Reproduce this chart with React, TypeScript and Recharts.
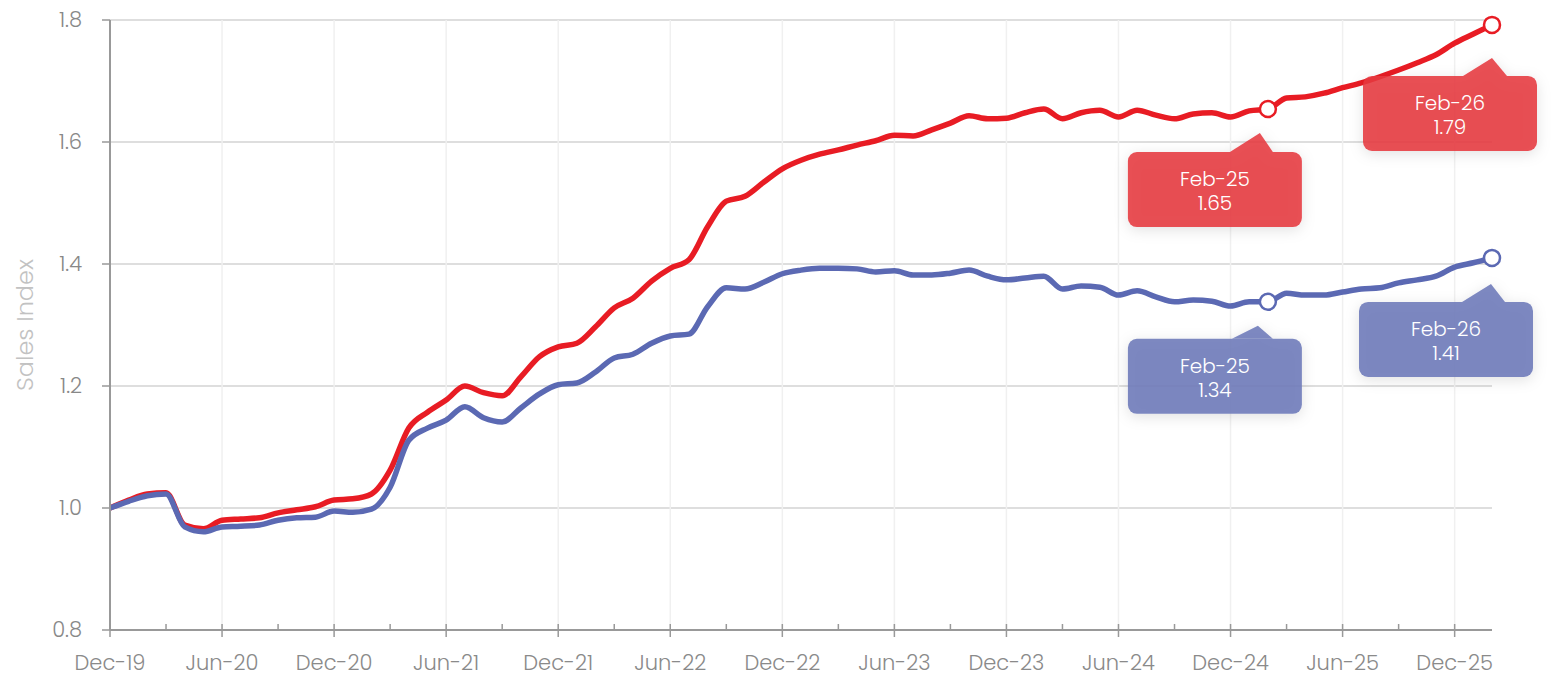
import React from "react";
import {
  LineChart, Line, XAxis, YAxis, CartesianGrid, ReferenceLine, ReferenceDot,
} from "recharts";

/* ── Categories ─────────────────────────────────────── */
const monthNames = ["Jan", "Feb", "Mar", "Apr", "May", "Jun", "Jul", "Aug", "Sep", "Oct", "Nov", "Dec"];
// Dec-19 .. Feb-26, one label per month
const months = Array.from({ length: 75 }, (_, i) => `${monthNames[(11 + i) % 12]}-${19 + Math.floor((11 + i) / 12)}`);

/* ── Series ─────────────────────────────────────────── */
const redSales = [
  1.000, 1.013, 1.023, 1.025, 0.972, 0.966, 0.980, 0.982, 0.984, 0.992, 0.997, 1.002,
  1.013, 1.015, 1.023, 1.062, 1.131, 1.157, 1.177, 1.200, 1.189, 1.184, 1.215, 1.248,
  1.264, 1.270, 1.297, 1.328, 1.344, 1.372, 1.393, 1.407, 1.461, 1.503, 1.511, 1.534,
  1.556, 1.570, 1.580, 1.587, 1.595, 1.602, 1.611, 1.610, 1.620, 1.631, 1.643, 1.638,
  1.639, 1.648, 1.654, 1.638, 1.648, 1.652, 1.641, 1.652, 1.644, 1.638, 1.646, 1.648,
  1.641, 1.651, 1.654, 1.672, 1.674, 1.680, 1.689, 1.697, 1.707, 1.718, 1.730, 1.743,
  1.762, 1.777, 1.792,
];

const blueSales = [
  1.000, 1.011, 1.020, 1.023, 0.969, 0.961, 0.969, 0.970, 0.972, 0.980, 0.984, 0.985,
  0.995, 0.993, 0.998, 1.034, 1.111, 1.131, 1.144, 1.166, 1.148, 1.141, 1.164, 1.187,
  1.202, 1.205, 1.223, 1.246, 1.252, 1.270, 1.282, 1.285, 1.330, 1.361, 1.359, 1.370,
  1.384, 1.390, 1.393, 1.393, 1.392, 1.387, 1.389, 1.382, 1.382, 1.385, 1.390, 1.380,
  1.374, 1.377, 1.380, 1.359, 1.364, 1.362, 1.349, 1.356, 1.346, 1.338, 1.341, 1.339,
  1.331, 1.338, 1.338, 1.352, 1.349, 1.349, 1.354, 1.359, 1.361, 1.369, 1.374, 1.380,
  1.395, 1.402, 1.410,
];

const yTicks = [0.8, 1.0, 1.2, 1.4, 1.6, 1.8];
const xTicks = Array.from({ length: 25 }, (_, i) => i * 3); // every quarter
const gridMonths = ["Jun-20", "Dec-20", "Jun-21", "Dec-21", "Jun-22", "Dec-22", "Jun-23", "Dec-23", "Jun-24", "Dec-24", "Jun-25", "Dec-25"];
const calloutMonths = ["Feb-25", "Feb-26"];

const data = months.map((m, i) => ({ i, month: m, red: redSales[i], blue: blueSales[i] }));

const RED = "#e81c24";
const BLUE = "#5b69b3";
const FONT = "Poppins, 'Open Sans', sans-serif";

function XTick(props: any) {
  const { x, y, payload } = props;
  const v = payload.value as number;
  const major = v % 6 === 0;
  return (
    <g>
      <line x1={x} x2={x} y1={y - 6} y2={major ? y + 7 : y} stroke="#999" strokeWidth={1.5} />
      {major && (
        <text x={x} y={y + 40} textAnchor="middle" fill="#8a8a8a" fontSize={21} fontFamily={FONT} fontWeight={300}>
          {months[v]}
        </text>
      )}
    </g>
  );
}

// callout geometry per placement: box offset and pointer tip relative to the dot
type Geo = { bx: number; by: number; tip: [number, number]; base: [number, number] };

function Callout(props: any) {
  const { cx, cy, color, box, label, value, geo } = props as {
    cx: number; cy: number; color: string; box: string; label: string; value: number; geo: Geo;
  };
  if (cx == null || cy == null) return null;
  const w = 174, h = 75;
  const left = cx + geo.bx, top = cy + geo.by;
  const tipX = cx + geo.tip[0], tipY = cy + geo.tip[1];
  return (
    <g>
      <g filter="url(#calloutShadow)">
        <path
          d={`M${cx + geo.base[0]},${top} L${tipX},${tipY} L${cx + geo.base[1]},${top} Z`}
          fill={box}
        />
        <rect x={left} y={top} width={w} height={h} rx={9} fill={box} />
      </g>
      <text x={left + w / 2} y={top + 34} textAnchor="middle" fill="#fff" fontSize={20} fontFamily={FONT} fontWeight={300}>
        {label}
      </text>
      <text x={left + w / 2} y={top + 58} textAnchor="middle" fill="#fff" fontSize={20} fontFamily={FONT} fontWeight={300}>
        {value.toFixed(2)}
      </text>
      <circle cx={cx} cy={cy} r={8} fill="#fff" stroke={color} strokeWidth={2.5} />
    </g>
  );
}

const redGeo: Geo[] = [
  { bx: -140, by: 43, tip: [-8, 24], base: [-38, 5] },
  { bx: -129, by: 51, tip: [0, 33], base: [-29, 15] },
];
const blueGeo: Geo[] = [
  { bx: -140, by: 37, tip: [-10, 24], base: [-36, 5] },
  { bx: -133, by: 44, tip: [-1, 26], base: [-30, 13] },
];

export default function App() {
  return (
    <div style={{ position: "absolute", left: 0, top: 0, width: 1562, height: 675, background: "#fff" }}>
      <LineChart width={1562} height={675} data={data} margin={{ top: 20, right: 70, bottom: 0, left: 0 }}>
        <defs>
          <filter id="calloutShadow" x="-30%" y="-40%" width="160%" height="180%">
            <feDropShadow dx={0} dy={3} stdDeviation={7} floodColor="#000" floodOpacity={0.13} />
          </filter>
        </defs>
        <CartesianGrid vertical={false} stroke="#dedede" strokeWidth={2} />
        {gridMonths.map((m) => (
          <ReferenceLine key={m} x={months.indexOf(m)} stroke="#f0f0f0" strokeWidth={1.5} />
        ))}
        <XAxis
          dataKey="i"
          type="number"
          domain={[0, 74]}
          ticks={xTicks}
          interval={0}
          height={45}
          tickSize={0}
          tickMargin={0}
          tickLine={false}
          axisLine={{ stroke: "#999", strokeWidth: 2 }}
          tick={<XTick />}
        />
        <YAxis
          type="number"
          domain={[0.8, 1.8]}
          ticks={yTicks}
          width={110}
          tickSize={8}
          tickMargin={20}
          tickFormatter={(v) => Number(v).toFixed(1)}
          axisLine={{ stroke: "#999", strokeWidth: 2 }}
          tickLine={{ stroke: "#999", strokeWidth: 1.5 }}
          tick={{ fill: "#888", fontSize: 21, fontFamily: FONT, fontWeight: 300 }}
          label={{
            value: "Sales Index",
            angle: -90,
            position: "insideLeft",
            offset: 24,
            style: { fill: "#c2c2c2", fontSize: 24, fontFamily: FONT, fontWeight: 300, textAnchor: "middle" },
          }}
        />
        <Line type="monotone" dataKey="red" stroke={RED} strokeWidth={5.5} dot={false} isAnimationActive={false} />
        <Line type="monotone" dataKey="blue" stroke={BLUE} strokeWidth={5.5} dot={false} isAnimationActive={false} />
        {calloutMonths.map((m, k) => {
          const idx = months.indexOf(m);
          return (
            <ReferenceDot
              key={`b-${m}`}
              x={idx}
              y={blueSales[idx]}
              ifOverflow="visible"
              shape={(p: any) => (
                <Callout {...p} color={BLUE} box="rgba(112,124,186,0.9)" label={m} value={blueSales[idx]} geo={blueGeo[k]} />
              )}
            />
          );
        })}
        {calloutMonths.map((m, k) => {
          const idx = months.indexOf(m);
          return (
            <ReferenceDot
              key={`r-${m}`}
              x={idx}
              y={redSales[idx]}
              ifOverflow="visible"
              shape={(p: any) => (
                <Callout {...p} color={RED} box="rgba(230,56,64,0.88)" label={m} value={redSales[idx]} geo={redGeo[k]} />
              )}
            />
          );
        })}
      </LineChart>
    </div>
  );
}
